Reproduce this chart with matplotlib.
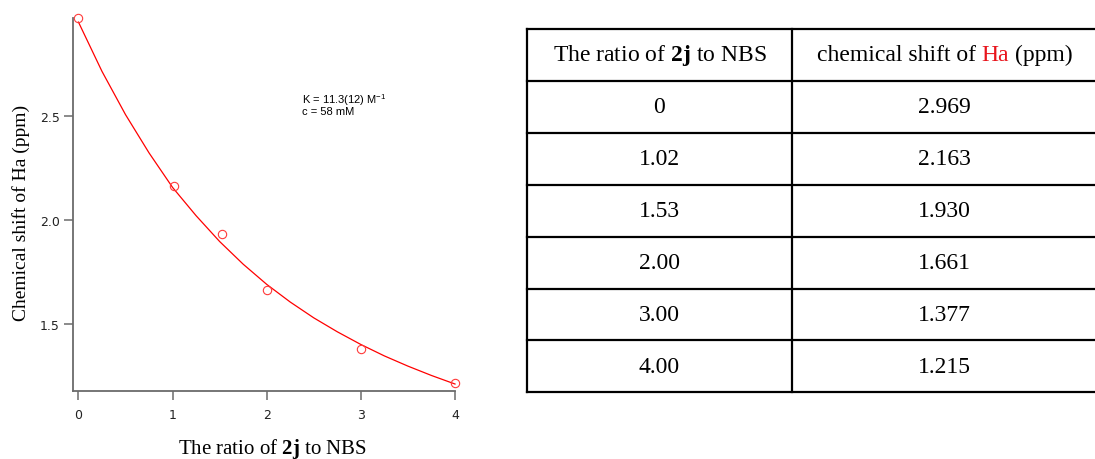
import matplotlib
matplotlib.use('Agg')
import matplotlib.pyplot as plt

# ── Data ──────────────────────────────────────────────────────────────────
ratio = [0, 1.02, 1.53, 2.00, 3.00, 4.00]
shift = [2.969, 2.163, 1.930, 1.661, 1.377, 1.215]

# fitted binding curve, every 0.25 equiv
fit_x = [0, 0.25, 0.5, 0.75, 1.0, 1.25, 1.5, 1.75, 2.0,
         2.25, 2.5, 2.75, 3.0, 3.25, 3.5, 3.75, 4.0]
fit_y = [2.950, 2.713, 2.505, 2.321, 2.155, 2.019, 1.895, 1.786, 1.689,
         1.604, 1.528, 1.461, 1.400, 1.345, 1.296, 1.251, 1.210]

ratio_labels = ['0', '1.02', '1.53', '2.00', '3.00', '4.00']
shift_labels = ['2.969', '2.163', '1.930', '1.661', '1.377', '1.215']

x_ticks = [0, 1, 2, 3, 4]
y_ticks = [1.5, 2.0, 2.5]

# ── Fonts ─────────────────────────────────────────────────────────────────
plt.rcParams['mathtext.fontset'] = 'custom'
plt.rcParams['mathtext.rm'] = 'Liberation Serif'
plt.rcParams['mathtext.bf'] = 'Liberation Serif:bold'
plt.rcParams['mathtext.sf'] = 'Liberation Sans'

SERIF = 'Liberation Serif'
AXIS_GREY = '#6b6b6b'

fig = plt.figure(figsize=(10.95, 4.6), dpi=100)

# ── Left: titration plot ──────────────────────────────────────────────────
ax = fig.add_axes([73 / 1095, 68 / 460, 382 / 1095, 373 / 460])
ax.plot(fit_x, fit_y, color='#ff0000', lw=0.9, clip_on=False)
ax.plot(ratio, shift, 'o', mfc='none', mec='#ff3b3b', ms=6, mew=0.8,
        clip_on=False)

ax.set_xlim(-0.058, 4.0)
ax.set_ylim(1.1764, 2.9697)
ax.set_xticks(x_ticks)
ax.set_xticklabels([str(t) for t in x_ticks])
ax.set_yticks(y_ticks)
ax.set_yticklabels(['%.1f' % t for t in y_ticks])

for s in ['top', 'right']:
    ax.spines[s].set_visible(False)
for s in ['left', 'bottom']:
    ax.spines[s].set_color(AXIS_GREY)
    ax.spines[s].set_linewidth(1.3)

ax.tick_params(axis='both', direction='out', length=6.5, width=1.1,
               color=AXIS_GREY, labelsize=9, labelcolor='#222222')
ax.tick_params(axis='x', pad=5.5)
ax.tick_params(axis='y', pad=3.2)

ax.set_xlabel(r'The ratio of $\mathbf{2j}$ to NBS', fontsize=15,
              family=SERIF, va='baseline')
ax.xaxis.set_label_coords(0.523, -0.167)
ax.set_ylabel('Chemical shift of Ha (ppm)', fontsize=14, family=SERIF,
              va='center')
ax.yaxis.set_label_coords(-0.137, 0.481)

ax.text(0.5995, 0.772, r'K = 11.3(12) M$^{\mathsf{-1}}$', transform=ax.transAxes,
        fontsize=8, family='Liberation Sans', va='baseline')
ax.text(0.5995, 0.743, 'c = 58 mM', transform=ax.transAxes,
        fontsize=8, family='Liberation Sans', va='baseline')

# ── Right: data table ─────────────────────────────────────────────────────
tax = fig.add_axes([527 / 1095, 66.7 / 460, 570 / 1095, 363.3 / 460])
n_rows = len(ratio_labels) + 1
col_edge = [0, 265, 570]
tax.set_xlim(col_edge[0], col_edge[-1])
tax.set_ylim(n_rows, 0)
tax.axis('off')

for i in range(n_rows + 1):
    tax.plot([col_edge[0], col_edge[-1]], [i, i], color='black', lw=1.6,
             clip_on=False, solid_capstyle='projecting')
for xe in col_edge:
    tax.plot([xe, xe], [0, n_rows], color='black', lw=1.6, clip_on=False,
             solid_capstyle='projecting')

c1 = (col_edge[0] + col_edge[1]) / 2
c2 = (col_edge[1] + col_edge[2]) / 2
FS = 17

tax.text(c1, 0.5, r'The ratio of $\mathbf{2j}$ to NBS', fontsize=FS,
         family=SERIF, ha='center', va='center')

# header with red "Ha": three pieces chained together, then centred
h1 = tax.text(c2, 0.5, 'chemical shift of', fontsize=FS, family=SERIF,
              ha='left', va='center')
h2 = tax.annotate('Ha', xy=(1, 0), xycoords=h1, xytext=(5.9, 0),
                  textcoords='offset pixels', fontsize=FS, family=SERIF,
                  color='#e8141c', ha='left', va='bottom')
h3 = tax.annotate('(ppm)', xy=(1, 0), xycoords=h2, xytext=(5.9, 0),
                  textcoords='offset pixels', fontsize=FS, family=SERIF,
                  ha='left', va='bottom')
renderer = fig.canvas.get_renderer()
b1 = h1.get_window_extent(renderer)
b3 = h3.get_window_extent(renderer)
total_w = b3.x1 - b1.x0
px_per_unit = tax.transData.transform((1, 0))[0] - tax.transData.transform((0, 0))[0]
h1.set_x(c2 - total_w / 2 / px_per_unit)

for i, (a, b) in enumerate(zip(ratio_labels, shift_labels)):
    tax.text(c1, i + 1.5, a, fontsize=FS, family=SERIF, ha='center', va='center')
    tax.text(c2, i + 1.5, b, fontsize=FS, family=SERIF, ha='center', va='center')

fig.savefig('out.png', dpi=100)
